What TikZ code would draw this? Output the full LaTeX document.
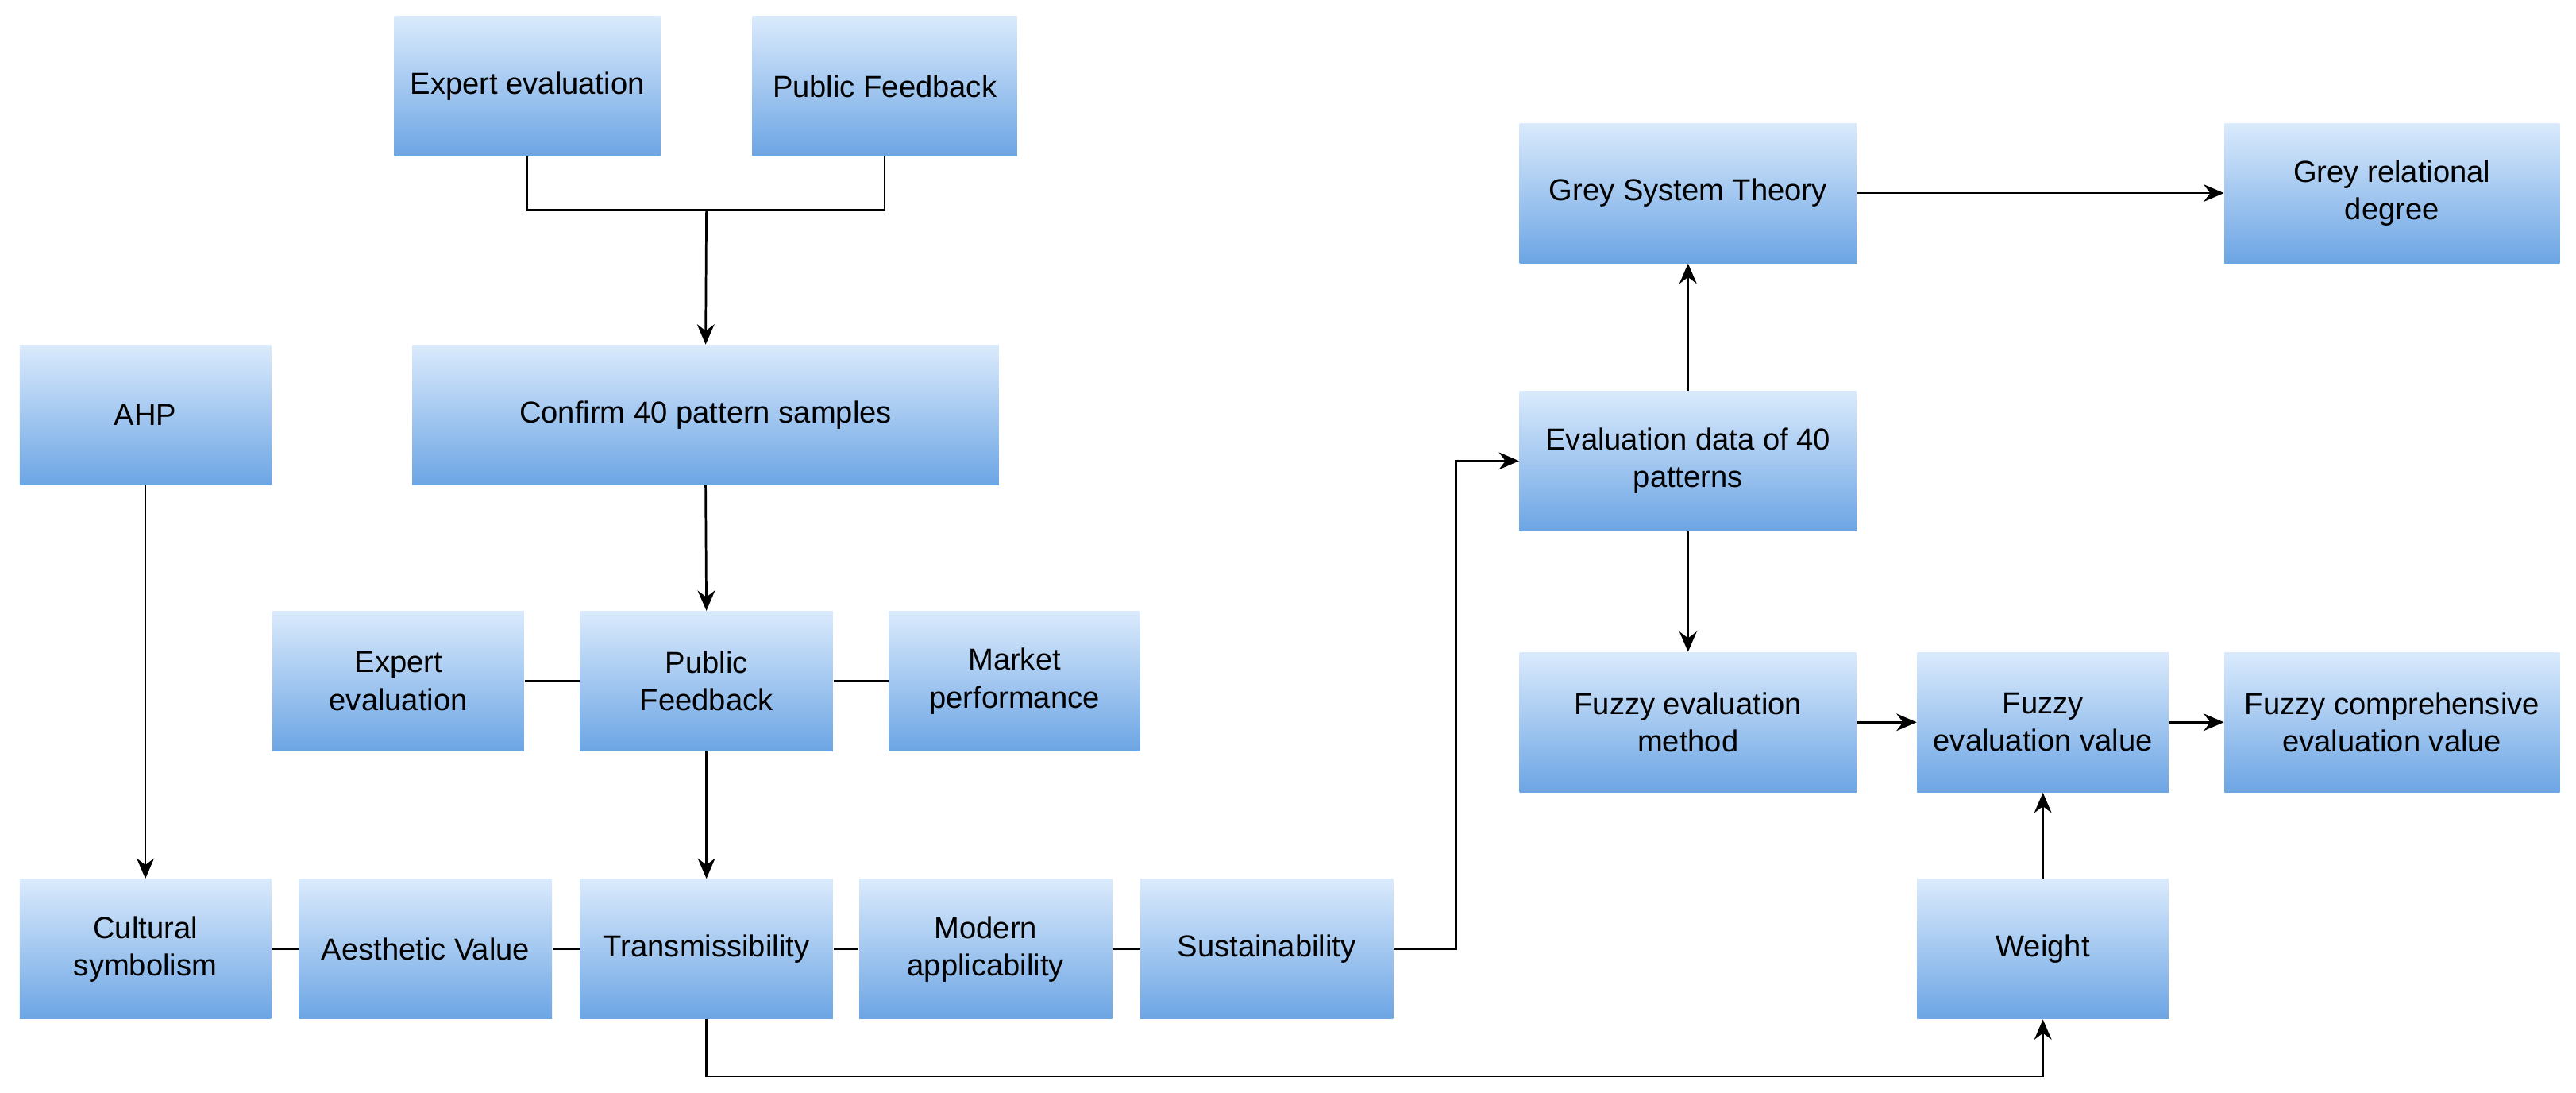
\documentclass[tikz,border=0pt]{standalone}
\usepackage{fontspec}
\setmainfont{Liberation Sans}
\usetikzlibrary{arrows.meta,calc}
\definecolor{topc}{RGB}{218,234,252}
\definecolor{botc}{RGB}{108,165,228}
\tikzset{
  box/.style={inner sep=2pt,align=center,top color=topc,bottom color=botc,draw=none,font=\fontsize{10.5}{13}\selectfont},
  ln/.style={line width=0.75pt},
  ar/.style={ln,-{Stealth[length=7pt,width=6pt]}}
}
\newcommand\bx[6]{\node[box,minimum width={(#4-#2)*0.02cm},minimum height={(#5-#3)*0.02cm}] (#1) at ({(#2+#4)/2},{(#3+#5)/2}) {#6};}
\begin{document}
\begin{tikzpicture}[x=0.02cm,y=-0.02cm]
\useasboundingbox (0,0) rectangle (1568,665);
\fill[white] (0,0) rectangle (1568,665);
\bx{e1}{240}{10}{402}{95}{Expert evaluation}
\bx{p1}{458}{10}{619}{95}{Public Feedback}
\bx{conf}{251}{210}{608}{295}{Confirm 40 pattern samples}
\bx{ahp}{12}{210}{165}{295}{AHP}
\bx{e2}{166}{372}{319}{457}{Expert\\evaluation}
\bx{p2}{353}{372}{507}{457}{Public\\Feedback}
\bx{mk}{541}{372}{694}{457}{Market\\performance}
\bx{cs}{12}{535}{165}{620}{Cultural\\symbolism}
\bx{av}{182}{535}{336}{620}{Aesthetic Value}
\bx{tr}{353}{535}{507}{620}{Transmissibility}
\bx{ma}{523}{535}{677}{620}{Modern\\applicability}
\bx{su}{694}{535}{848}{620}{Sustainability}
\bx{ev}{925}{238}{1130}{323}{Evaluation data of 40\\patterns}
\bx{gs}{925}{75}{1130}{160}{Grey System Theory}
\bx{gr}{1354}{75}{1558}{160}{Grey relational\\degree}
\bx{fm}{925}{397}{1130}{482}{Fuzzy evaluation\\method}
\bx{fv}{1167}{397}{1320}{482}{Fuzzy\\evaluation value}
\bx{fc}{1354}{397}{1558}{482}{Fuzzy comprehensive\\evaluation value}
\bx{w}{1167}{535}{1320}{620}{Weight}
\coordinate (m) at (430,128);
\coordinate (b) at (0,655);
\draw[ln] (e1.south) |- (m) -| (p1.south);
\draw[ar] (m) -- (conf.north);
\draw[ar] (conf.south) -- (p2.north);
\draw[ln] (e2.east) -- (p2.west);
\draw[ln] (p2.east) -- (mk.west);
\draw[ar] (p2.south) -- (tr.north);
\draw[ar] (ahp.south) -- (cs.north);
\draw[ln] (cs.east) -- (av.west);
\draw[ln] (av.east) -- (tr.west);
\draw[ln] (tr.east) -- (ma.west);
\draw[ln] (ma.east) -- (su.west);
\draw[ar] (su.east) -- ++(38,0) |- (ev.west);
\draw[ar] (ev.north) -- (gs.south);
\draw[ar] (gs.east) -- (gr.west);
\draw[ar] (ev.south) -- (fm.north);
\draw[ar] (fm.east) -- (fv.west);
\draw[ar] (fv.east) -- (fc.west);
\draw[ar] (w.north) -- (fv.south);
\draw[ar] (tr.south) -- (tr.south|-b) -- (w.south|-b) -- (w.south);
\end{tikzpicture}
\end{document}
